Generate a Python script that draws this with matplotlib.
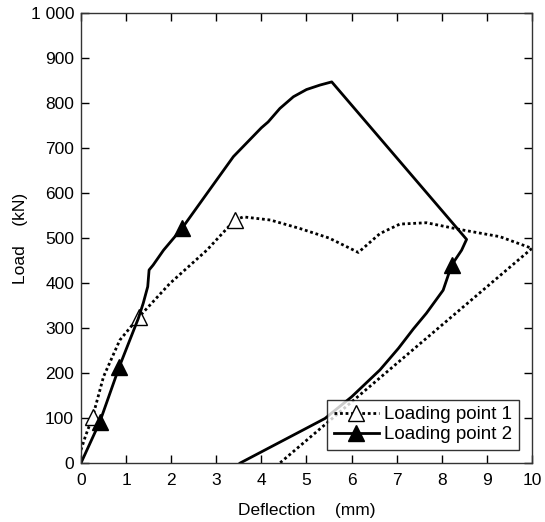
import matplotlib
matplotlib.use("Agg")
import matplotlib.pyplot as plt

plt.rcParams['font.family'] = ['Liberation Sans', 'DejaVu Sans']

# Loading point 1 (dotted, open triangles)
x1 = [0, 0.1, 0.26, 0.5, 0.86, 1.29, 1.97, 2.79, 3.41, 3.6, 4.2, 4.86, 5.5, 6.15, 6.63, 7.07, 7.66, 8.4, 9.29, 10.0, 4.41]
y1 = [29, 60, 103, 192, 273, 325, 399, 473, 540, 547, 540, 521, 500, 468, 510, 531, 534, 519, 503, 477, 0]
mark1 = [2, 5, 8]

# Loading point 2 (solid, filled triangles)
x2 = [0, 0.42, 0.85, 1.27, 1.38, 1.48, 1.51, 1.6, 1.83, 2.25, 2.8, 3.38, 4.0, 4.15, 4.41, 4.71, 5.0, 5.3, 5.56, 8.55, 8.44, 8.22, 8.03, 7.66, 7.37, 7.04, 6.63, 6.0, 5.41, 4.86, 3.53]
y2 = [0, 92, 214, 321, 355, 392, 429, 440, 473, 523, 600, 681, 745, 758, 788, 814, 830, 840, 847, 497, 473, 440, 384, 333, 298, 255, 207, 147, 99, 70, 0]
mark2 = [1, 2, 9, 21]

labels = ["Loading point 1", "Loading point 2"]
xticks = list(range(0, 11))
yticks = list(range(0, 1001, 100))
yticklabels = ["0", "100", "200", "300", "400", "500", "600", "700", "800", "900", "1 000"]

fig = plt.figure(figsize=(5.45, 5.22), dpi=100)
ax = fig.add_axes([0.1486, 0.113, 0.8275, 0.862])

ax.plot(x1, y1, color='black', linestyle=(0, (1, 1)), linewidth=2.0, marker='^', markersize=11,
        markerfacecolor='white', markeredgecolor='black', markeredgewidth=1.0,
        markevery=mark1, label=labels[0])
ax.plot(x2, y2, color='black', linestyle='-', linewidth=2.0, marker='^', markersize=11,
        markerfacecolor='black', markeredgecolor='black', markeredgewidth=1.0,
        markevery=mark2, label=labels[1])

ax.set_xlim(0, 10)
ax.set_ylim(0, 1000)
ax.set_xticks(xticks)
ax.set_yticks(yticks)
ax.set_yticklabels(yticklabels)
ax.tick_params(direction='in', top=True, right=True, length=6, width=1, labelsize=12.5, pad=5)
ax.tick_params(axis='x', pad=7)
for s in ax.spines.values():
    s.set_linewidth(1.0)
    s.set_color('#333333')

ax.set_xlabel("Deflection    (mm)", fontsize=12.5, labelpad=11)
ax.set_ylabel("Load    (kN)", fontsize=12.5, labelpad=2)

leg = ax.legend(loc='lower right', fontsize=13.5, frameon=True, fancybox=False,
                edgecolor='black', handlelength=2.4, borderaxespad=0.7,
                labelspacing=0.15, handletextpad=0.3, borderpad=0.35)
leg.get_frame().set_linewidth(1.0)

fig.savefig("out.png", dpi=100)
